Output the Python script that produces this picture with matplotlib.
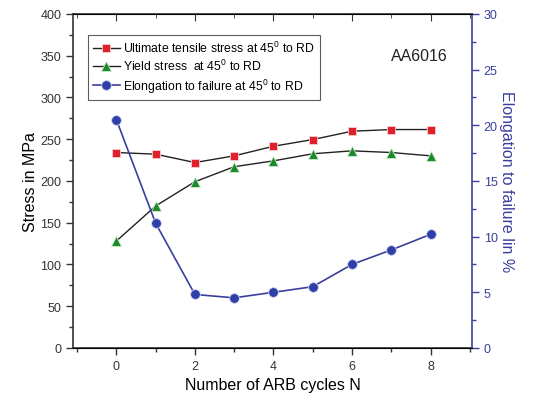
import matplotlib
matplotlib.use('Agg')
import matplotlib.pyplot as plt
from matplotlib.ticker import MultipleLocator

plt.rcParams['font.family'] = ['Liberation Sans', 'DejaVu Sans']
plt.rcParams['mathtext.fontset'] = 'custom'
plt.rcParams['mathtext.rm'] = 'Liberation Sans'

# data
cycles = [0, 1, 2, 3, 4, 5, 6, 7, 8]
uts = [234, 232, 222, 230, 241.5, 249.5, 259.5, 261.5, 261.5]
yield_stress = [128, 170, 199, 217, 224, 232.5, 236, 234, 230]
elongation = [20.5, 11.2, 4.8, 4.5, 5.0, 5.5, 7.5, 8.8, 10.2]

blue = '#3b3f9c'

fig = plt.figure(figsize=[5.38, 4.02], dpi=100)
ax = fig.add_axes([0.136, 0.132, 0.741, 0.831])
ax2 = ax.twinx()

l1, = ax.plot(cycles, uts, color='#222222', linewidth=1,
              marker='s', markersize=6, markerfacecolor='#e0202a',
              markeredgecolor='#f5d0d0', markeredgewidth=0.6,
              label='Ultimate tensile stress at 45$^0$ to RD')
l2, = ax.plot(cycles, yield_stress, color='#222222', linewidth=1,
              marker='^', markersize=7, markerfacecolor='#1e8a2e',
              markeredgecolor='#d0ecd0', markeredgewidth=0.6,
              label='Yield stress  at 45$^0$ to RD')
l3, = ax2.plot(cycles, elongation, color=blue, linewidth=1.2,
               marker='o', markersize=7, markerfacecolor='#2e3fa8',
               markeredgecolor='#d0d4f0', markeredgewidth=0.6,
               label='Elongation to failure at 45$^0$ to RD')

ax.set_xlim(-1.1, 9.05)
ax.set_ylim(0, 400)
ax2.set_ylim(0, 30)

ax.xaxis.set_major_locator(MultipleLocator(2))
ax.xaxis.set_minor_locator(MultipleLocator(1))
ax.yaxis.set_major_locator(MultipleLocator(50))
ax.yaxis.set_minor_locator(MultipleLocator(25))
ax2.yaxis.set_major_locator(MultipleLocator(5))
ax2.yaxis.set_minor_locator(MultipleLocator(2.5))

ax.tick_params(axis='both', which='both', direction='out', colors='#333333',
               labelsize=9, top=False)
ax.tick_params(which='major', length=5, width=1)
ax.tick_params(which='minor', length=3, width=1)
ax2.tick_params(axis='y', which='both', direction='out', colors=blue, labelsize=9)
ax2.tick_params(which='major', length=5, width=1)
ax2.tick_params(which='minor', length=3, width=1)

# ticks on top spine pointing inward
top = ax.secondary_xaxis('top')
top.xaxis.set_major_locator(MultipleLocator(2))
top.xaxis.set_minor_locator(MultipleLocator(1))
top.tick_params(which='both', direction='in', labeltop=False, colors='#333333')
top.tick_params(which='major', length=5)
top.tick_params(which='minor', length=3)
top.spines['top'].set_visible(False)

for s in ['left', 'bottom', 'top']:
    ax.spines[s].set_color('#333333')
    ax.spines[s].set_linewidth(1.2)
ax2.spines['right'].set_color(blue)
ax2.spines['right'].set_linewidth(1.2)
ax2.spines['left'].set_visible(False)
ax.spines['right'].set_visible(False)

ax.set_xlabel('Number of ARB cycles N', fontsize=11.5, labelpad=4)
ax.set_ylabel('Stress in MPa', fontsize=11.5, labelpad=2)
ax2.set_ylabel('Elongation to failure lin %', fontsize=11.5, color=blue,
               rotation=270, va='bottom', labelpad=1)

leg = ax.legend(handles=[l1, l2, l3], loc='upper left',
                bbox_to_anchor=(0.022, 0.955), fontsize=8.8, frameon=True,
                fancybox=False, edgecolor='#333333', borderpad=0.4,
                handlelength=2.2, handletextpad=0.3, labelspacing=0.25)
leg.get_frame().set_linewidth(0.8)

ax.text(0.94, 0.875, 'AA6016', transform=ax.transAxes, fontsize=11.5,
        ha='right', va='center', color='#222222')

plt.savefig('out.png', dpi=100)
